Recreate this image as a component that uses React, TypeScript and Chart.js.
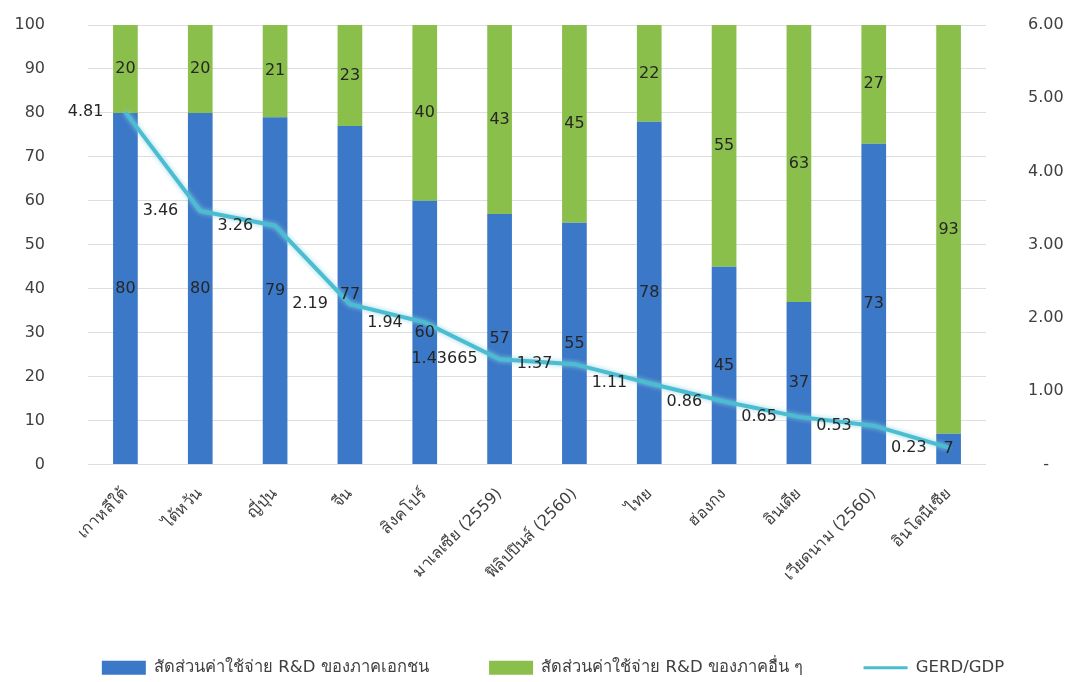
import React, { useEffect, useRef } from "react";
import { Chart, registerables } from "chart.js";

Chart.register(...registerables);

const categories = [
  "เกาหลีใต้",
  "ไต้หวัน",
  "ญี่ปุ่น",
  "จีน",
  "สิงคโปร์",
  "มาเลเซีย (2559)",
  "ฟิลิปปินส์ (2560)",
  "ไทย",
  "ฮ่องกง",
  "อินเดีย",
  "เวียดนาม (2560)",
  "อินโดนีเซีย",
];
const privateShare = [80, 80, 79, 77, 60, 57, 55, 78, 45, 37, 73, 7];
const otherShare = [20, 20, 21, 23, 40, 43, 45, 22, 55, 63, 27, 93];
const gerdGdp = [4.81, 3.46, 3.26, 2.19, 1.94, 1.43665, 1.37, 1.11, 0.86, 0.65, 0.53, 0.23];

const seriesNames = [
  "สัดส่วนค่าใช้จ่าย R&D ของภาคเอกชน",
  "สัดส่วนค่าใช้จ่าย R&D ของภาคอื่น ๆ",
  "GERD/GDP",
];

const FONT = "'DejaVu Sans', 'Noto Sans', sans-serif";
const LEGEND_GAP = "          ";

const labelPlugin = {
  id: "valueLabels",
  afterLayout(chart: any) {
    const lg = chart.legend;
    if (lg) {
      lg.left += 14;
      lg.right += 14;
      lg.top += 4;
      lg.bottom += 4;
    }
  },
  beforeDatasetDraw(chart: any, args: any) {
    const ds = chart.data.datasets[args.index];
    if (ds.type === "line") {
      const ctx = chart.ctx;
      ctx.save();
      ctx.shadowColor = "rgba(140, 210, 225, 0.9)";
      ctx.shadowBlur = 5;
    }
  },
  afterDatasetDraw(chart: any, args: any) {
    const ds = chart.data.datasets[args.index];
    if (ds.type === "line") chart.ctx.restore();
  },
  afterDatasetsDraw(chart: any) {
    const ctx = chart.ctx;
    ctx.save();
    ctx.font = `16px ${FONT}`;
    ctx.fillStyle = "#262626";
    ctx.textBaseline = "middle";
    chart.data.datasets.forEach((ds: any, di: number) => {
      const meta = chart.getDatasetMeta(di);
      meta.data.forEach((el: any, i: number) => {
        const v = ds.data[i];
        if (ds.type === "line") {
          ctx.textAlign = "right";
          ctx.fillText(String(v), el.x - 22, el.y);
        } else {
          ctx.textAlign = "center";
          ctx.fillText(String(v), el.x, (el.y + el.base) / 2);
        }
      });
    });
    ctx.restore();
  },
};

export default function App() {
  const ref = useRef<HTMLCanvasElement | null>(null);
  useEffect(() => {
    if (!ref.current) return;
    const chart = new Chart(ref.current, {
      type: "bar",
      data: {
        labels: categories,
        datasets: [
          {
            type: "bar",
            label: seriesNames[0],
            data: privateShare,
            backgroundColor: "#3b78c7",
            yAxisID: "y",
            order: 1,
            barPercentage: 1,
            categoryPercentage: 0.33,
          },
          {
            type: "bar",
            label: seriesNames[1],
            data: otherShare,
            backgroundColor: "#8bbf4b",
            yAxisID: "y",
            order: 1,
            barPercentage: 1,
            categoryPercentage: 0.33,
          },
          {
            type: "line",
            label: seriesNames[2],
            data: gerdGdp,
            borderColor: "#4bbdd1",
            backgroundColor: "#4bbdd1",
            borderWidth: 4,
            pointRadius: 0,
            tension: 0,
            yAxisID: "y1",
            order: 0,
          },
        ] as any,
      },
      options: {
        animation: false,
        responsive: true,
        maintainAspectRatio: false,
        layout: { padding: { top: 25, bottom: 0, left: 0, right: 0 } },
        plugins: {
          tooltip: { enabled: false },
          legend: {
            position: "bottom",
            labels: {
              usePointStyle: true,
              pointStyleWidth: 44,
              boxHeight: 14,
              padding: 8,
              color: "#404040",
              font: { family: FONT, size: 16.5 },
              sort: (a: any, b: any) => a.datasetIndex - b.datasetIndex,
              generateLabels: (chart: any) =>
                chart.data.datasets.map((ds: any, i: number) => ({
                  text: i < 2 ? ds.label + LEGEND_GAP : ds.label,
                  datasetIndex: i,
                  fillStyle: ds.backgroundColor,
                  strokeStyle: ds.type === "line" ? ds.borderColor : ds.backgroundColor,
                  lineWidth: ds.type === "line" ? 3 : 0,
                  pointStyle: ds.type === "line" ? "line" : "rect",
                  fontColor: "#404040",
                  hidden: false,
                })),
            },
          },
        },
        scales: {
          x: {
            stacked: true,
            grid: { display: false },
            border: { display: false },
            ticks: {
              minRotation: 45,
              maxRotation: 45,
              color: "#404040",
              font: { family: FONT, size: 16 },
              padding: 12,
            },
            afterFit: (s: any) => {
              s.height = 183;
            },
          },
          y: {
            stacked: true,
            min: 0,
            max: 100,
            position: "left",
            ticks: {
              stepSize: 10,
              color: "#404040",
              font: { family: FONT, size: 16 },
              padding: 43,
            },
            grid: { color: "#dedede", drawTicks: false },
            border: { display: false },
            afterFit: (s: any) => {
              s.width = 88;
              s.paddingTop = 10;
              s.paddingBottom = 10;
            },
          },
          y1: {
            min: 0,
            max: 6,
            position: "right",
            ticks: {
              stepSize: 1,
              color: "#404040",
              font: { family: FONT, size: 16 },
              padding: 42,
              callback: (v: any) => (Number(v) === 0 ? "   -" : Number(v).toFixed(2)),
            },
            grid: { display: false, drawTicks: false },
            border: { display: false },
            afterFit: (s: any) => {
              s.width = 92;
              s.paddingTop = 10;
              s.paddingBottom = 10;
            },
          },
        },
      },
      plugins: [labelPlugin],
    });
    return () => chart.destroy();
  }, []);
  return (
    <div style={{ position: "fixed", left: 0, top: 0, width: 1078, height: 682, background: "#fff" }}>
      <canvas ref={ref} />
    </div>
  );
}
